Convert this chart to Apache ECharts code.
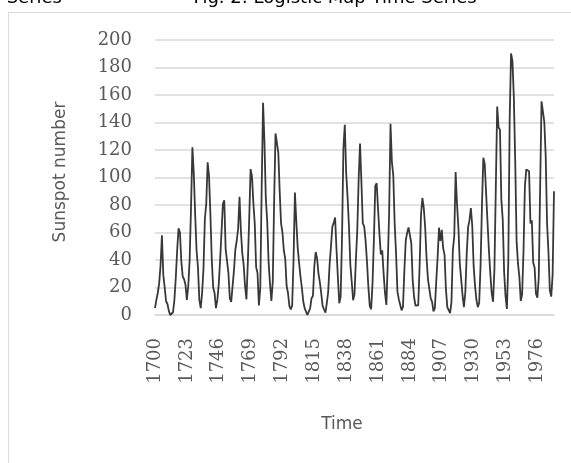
<!DOCTYPE html>
<html>
<head>
<meta charset="utf-8">
<script src="https://cdn.jsdelivr.net/npm/echarts@6/dist/echarts.min.js"></script>
<style>html,body{margin:0;padding:0;background:#fff;}#c{width:571px;height:463px;}</style>
</head>
<body>
<div id="c"></div>
<script>
var startYear = 1700;
var endYear = 1988;
var years = [];
for (var y = startYear; y <= endYear; y++) years.push(String(y));

var sunspots = [
  5, 11, 16, 23, 36, 58, 29, 20, 10, 8, 3, 0, 0, 2, 11, 27, 47, 63, 60, 39,
  28, 26, 22, 11, 21, 40, 78, 122, 103, 73, 47, 35, 11, 5, 16, 34, 70, 81, 111, 101,
  73, 40, 20, 16, 5, 11, 22, 40, 60, 80.9, 83.4, 47.7, 47.8, 30.7, 12.2, 9.6, 10.2, 32.4, 47.6, 54,
  62.9, 85.9, 61.2, 45.1, 36.4, 20.9, 11.4, 37.8, 69.8, 106.1, 100.8, 81.6, 66.5, 34.8, 30.6, 7, 19.8, 92.5, 154.4, 125.9,
  84.8, 68.1, 38.5, 22.8, 10.2, 24.1, 82.9, 132, 130.9, 118.1, 89.9, 66.6, 60, 46.9, 41, 21.3, 16, 6.4, 4.1, 6.8,
  40, 89, 68, 49, 38, 28, 20, 10, 5, 2.5, 0, 1.4, 5, 12.2, 13.9, 35.4, 45.8, 41.1, 30.1, 23.9,
  15.6, 6.6, 4, 1.8, 8.5, 16.6, 36.3, 49.6, 64.2, 67, 70.9, 47.8, 27.5, 8.5, 13.2, 56.9, 121.5, 138.3, 103.2, 85.7,
  64.6, 36.7, 24.2, 10.7, 15, 40.1, 61.5, 98.5, 124.7, 96.3, 66.6, 64.5, 54.1, 39, 20.6, 6.7, 4.3, 22.7, 54.8, 93.8,
  95.8, 77.2, 59.1, 44, 47, 30.5, 16.3, 7.3, 37.6, 74, 139, 111.2, 101.6, 66.2, 44.7, 17, 11.3, 12.4, 3.4, 6,
  32.3, 54.3, 59.7, 63.7, 63.5, 52.2, 25.4, 13.1, 6.8, 6.3, 7.1, 35.6, 73, 85.1, 78, 64, 41.8, 26.2, 26.7, 12.1,
  9.5, 2.7, 5, 24.4, 42, 63.5, 53.8, 62, 48.5, 43.9, 18.6, 5.7, 3.6, 1.4, 9.6, 47.4, 57.1, 103.9, 80.6, 63.6,
  37.6, 26.1, 14.2, 5.8, 16.7, 44.3, 63.9, 69, 77.8, 64.9, 35.7, 21.2, 11.1, 5.7, 8.7, 36.1, 79.7, 114.4, 109.6, 88.8,
  67.8, 47.5, 30.6, 16.3, 9.6, 33.2, 92.6, 151.6, 136.3, 134.7, 83.9, 69.4, 31.5, 13.9, 4.4, 38, 141.7, 190.2, 184.8, 159,
  112.3, 53.9, 37.5, 27.9, 10.2, 15.1, 47, 93.8, 105.9, 105.5, 104.5, 66.6, 68.9, 38, 34.5, 15.5, 12.6, 27.5, 92.5, 155.4,
  154.6, 140.4, 115.9, 66.6, 45.9, 17.9, 13.4, 29.2, 90
];

var titleText = 'Fig. 2: Logistic Map Time Series';
var prevTitleText = 'Series';
var yAxisName = 'Sunspot number';
var xAxisName = 'Time';

var chart = echarts.init(document.getElementById('c'), null, {renderer: 'canvas'});
var sansFont = '"DejaVu Sans", Verdana, sans-serif';
var tickFont = '"DejaVu Serif", serif';

chart.setOption({
  animation: false,
  backgroundColor: '#ffffff',
  grid: {left: 155, right: 17, top: 40, bottom: 148},
  xAxis: {
    type: 'category',
    data: years,
    boundaryGap: false,
    axisLine: {show: true, lineStyle: {color: '#d9d9d9', width: 1.5}},
    axisTick: {show: false},
    axisLabel: {
      interval: 22,
      rotate: 90,
      margin: 23,
      color: '#595959',
      fontFamily: tickFont,
      fontSize: 18
    },
    splitLine: {show: false}
  },
  yAxis: {
    type: 'value',
    min: 0,
    max: 200,
    interval: 20,
    axisLine: {show: false},
    axisTick: {show: false},
    axisLabel: {margin: 23, color: '#595959', fontFamily: tickFont, fontSize: 18},
    splitLine: {lineStyle: {color: '#d9d9d9', width: 1.5}}
  },
  series: [{
    type: 'line',
    data: sunspots,
    showSymbol: false,
    symbol: 'none',
    lineStyle: {color: '#383838', width: 1.8},
    z: 3
  }],
  graphic: [
    {type: 'rect', shape: {x: 8.5, y: 12.5, width: 700, height: 600}, style: {fill: 'none', stroke: '#d9d9d9', lineWidth: 1}, silent: true},
    {type: 'text', x: 335, y: -2, style: {text: titleText, font: '18px ' + sansFont, fill: '#000000', textAlign: 'center', textVerticalAlign: 'middle'}},
    {type: 'text', x: 62, y: -2, style: {text: prevTitleText, font: '18px ' + sansFont, fill: '#000000', textAlign: 'right', textVerticalAlign: 'middle'}},
    {type: 'text', x: 61, y: 172, rotation: Math.PI / 2, style: {text: yAxisName, font: '17px ' + sansFont, fill: '#595959', textAlign: 'center', textVerticalAlign: 'middle'}},
    {type: 'text', x: 342, y: 425, style: {text: xAxisName, font: '17px ' + sansFont, fill: '#595959', textAlign: 'center', textVerticalAlign: 'middle'}}
  ]
});
</script>
</body>
</html>
